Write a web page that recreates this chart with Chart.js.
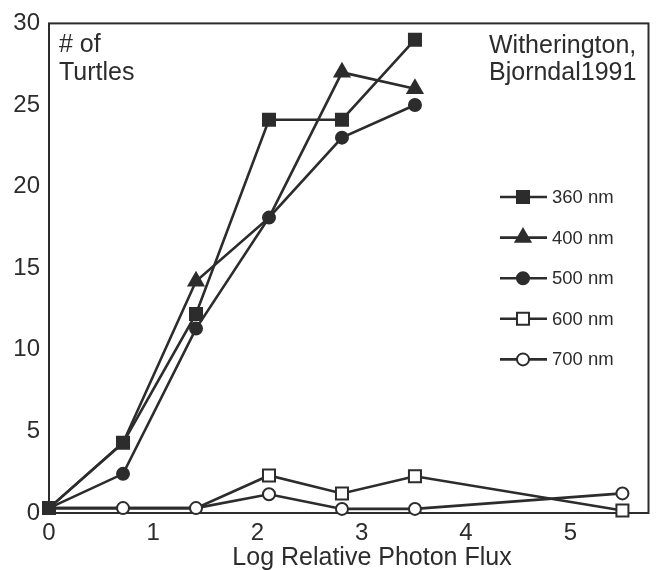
<!DOCTYPE html>
<html>
<head>
<meta charset="utf-8">
<script src="https://cdn.jsdelivr.net/npm/chart.js@4.4.0/dist/chart.umd.min.js"></script>
<style>
  html, body { margin: 0; padding: 0; background: #fff; }
</style>
</head>
<body>
<canvas id="turtleChart" width="659" height="570"></canvas>
<script>
// log relative photon flux levels used in the trials
const fluxLevels = [0, 0.71, 1.41, 2.11, 2.81, 3.51, 5.5];
const wavelengths = ['360 nm', '400 nm', '500 nm', '600 nm', '700 nm'];
const turtles360 = [0.3, 4.3, 12.2, 24.1, 24.1, 29.0];
const turtles400 = [0.3, 4.3, 14.2, 18.1, 27.0, 26.0];
const turtles500 = [0.3, 2.4, 11.3, 18.1, 23.0, 25.0];
const turtles600 = [0.3, 0.3, 0.3, 2.3, 1.2, 2.25, 0.15];
const turtles700 = [0.3, 0.3, 0.3, 1.15, 0.25, 0.25, 1.2];
const yTicks = [0, 5, 10, 15, 20, 25, 30];

const ink = '#2c2c2c';
const fontFamily = "'Liberation Sans', Arial, Helvetica, sans-serif";

function toPoints(values) {
    return values.map((v, i) => ({ x: fluxLevels[i], y: v }));
}

// a marker that sits exactly under a marker of a series drawn above it is not shown
function hiddenUnderOther(c) {
    const chart = c.chart;
    const own = chart.data.datasets[c.datasetIndex];
    const p = own.data[c.dataIndex];
    return chart.data.datasets.some((ds, j) =>
        j !== c.datasetIndex && ds.order < own.order &&
        ds.data.some(q => q.x === p.x && q.y === p.y));
}

function makeSeries(label, values, pointStyle, filled, radius, order) {
    return {
        label: label,
        data: toPoints(values),
        borderColor: ink,
        borderWidth: 2.6,
        pointStyle: pointStyle,
        markerRadius: radius,
        pointRadius: (c) => hiddenUnderOther(c) ? 0 : radius,
        pointHoverRadius: (c) => hiddenUnderOther(c) ? 0 : radius,
        pointBorderWidth: 2,
        pointBorderColor: ink,
        pointBackgroundColor: filled ? ink : '#ffffff',
        showLine: true,
        fill: false,
        tension: 0,
        clip: false,
        order: order
    };
}

const datasets = [
    makeSeries(wavelengths[0], turtles360, 'rect', true, 8.5, 0),
    makeSeries(wavelengths[1], turtles400, 'triangle', true, 8.5, 2),
    makeSeries(wavelengths[2], turtles500, 'circle', true, 6, 1),
    makeSeries(wavelengths[3], turtles600, 'rect', false, 8.5, 4),
    makeSeries(wavelengths[4], turtles700, 'circle', false, 6, 3)
];

function drawMarker(ctx, style, x, y, r) {
    ctx.beginPath();
    if (style === 'rect') {
        const s = Math.SQRT1_2 * r;
        ctx.rect(x - s, y - s, 2 * s, 2 * s);
    } else if (style === 'triangle') {
        for (let k = 0; k < 3; k++) {
            const a = k * 2 * Math.PI / 3;
            const px = x + Math.sin(a) * r;
            const py = y - Math.cos(a) * r;
            if (k === 0) ctx.moveTo(px, py); else ctx.lineTo(px, py);
        }
        ctx.closePath();
    } else {
        ctx.arc(x, y, r, 0, Math.PI * 2);
    }
    ctx.fill();
    ctx.stroke();
}

const frameAndNotes = {
    id: 'frameAndNotes',
    beforeDatasetsDraw(chart) {
        const { ctx, chartArea: a } = chart;
        ctx.save();
        ctx.strokeStyle = ink;
        ctx.lineWidth = 2;
        ctx.strokeRect(a.left, a.top, a.right - a.left, a.bottom - a.top);
        ctx.restore();
    },
    afterDraw(chart) {
        const ctx = chart.ctx;
        ctx.save();
        ctx.fillStyle = ink;
        ctx.textBaseline = 'alphabetic';

        // axis title
        ctx.font = '25px ' + fontFamily;
        ctx.textAlign = 'center';
        ctx.fillText('Log Relative Photon Flux', 372, 565);

        // in-plot notes
        ctx.font = '25px ' + fontFamily;
        ctx.textAlign = 'left';
        ctx.fillText('# of', 59, 52);
        ctx.fillText('Turtles', 59, 80);
        ctx.fillText('Witherington,', 489, 53);
        ctx.fillText('Bjorndal1991', 489, 80);

        // legend
        ctx.font = '18.5px ' + fontFamily;
        ctx.textBaseline = 'middle';
        chart.data.datasets.forEach((ds, i) => {
            const y = 197 + i * 40.6;
            ctx.strokeStyle = ink;
            ctx.lineWidth = 2.6;
            ctx.beginPath();
            ctx.moveTo(500, y);
            ctx.lineTo(547, y);
            ctx.stroke();
            ctx.lineWidth = 2;
            ctx.fillStyle = ds.pointBackgroundColor;
            drawMarker(ctx, ds.pointStyle, 523, y, ds.markerRadius);
            ctx.fillStyle = ink;
            ctx.fillText(ds.label, 552, y + 1);
        });
        ctx.restore();
    }
};

const ctx = document.getElementById('turtleChart').getContext('2d');

new Chart(ctx, {
    type: 'scatter',
    data: { datasets: datasets },
    options: {
        responsive: false,
        animation: false,
        layout: { padding: { top: 22, right: 3, left: 0, bottom: 0 } },
        scales: {
            x: {
                type: 'linear',
                min: 0,
                max: 5.75,
                grid: { display: false, drawTicks: false },
                border: { display: false },
                afterFit: (scale) => { scale.height = 57; },
                ticks: {
                    stepSize: 1,
                    includeBounds: false,
                    padding: 6,
                    color: ink,
                    font: { family: fontFamily, size: 24 },
                    callback: (v) => Number.isInteger(v) ? v : ''
                }
            },
            y: {
                min: yTicks[0],
                max: yTicks[yTicks.length - 1],
                grid: { display: false, drawTicks: false },
                border: { display: false },
                afterFit: (scale) => { scale.width = 49; },
                afterBuildTicks: (scale) => {
                    scale.ticks = yTicks.map(v => ({ value: v }));
                },
                ticks: {
                    padding: 9,
                    color: ink,
                    font: { family: fontFamily, size: 24 }
                }
            }
        },
        plugins: {
            legend: { display: false },
            tooltip: { enabled: false }
        }
    },
    plugins: [frameAndNotes]
});
</script>
</body>
</html>
